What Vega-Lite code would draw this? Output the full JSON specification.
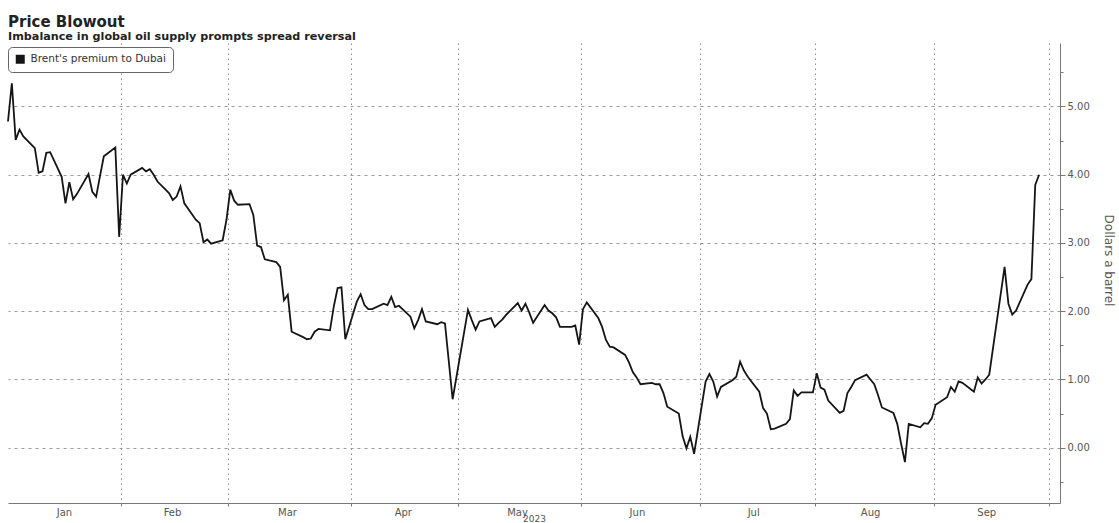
{
  "$schema": "https://vega.github.io/schema/vega-lite/v6.json",
  "width": 1052,
  "height": 460,
  "autosize": {"type": "none"},
  "padding": {"left": 8, "top": 43, "right": 59, "bottom": 20},
  "background": "#ffffff",
  "config": {"view": {"stroke": null}},
  "title": {
    "text": "Price Blowout",
    "subtitle": "Imbalance in global oil supply prompts spread reversal",
    "anchor": "start",
    "frame": "group",
    "font": "DejaVu Sans",
    "fontSize": 15,
    "fontWeight": "bold",
    "color": "#222222",
    "subtitleFont": "DejaVu Sans",
    "subtitleFontSize": 11.2,
    "subtitleFontWeight": "bold",
    "subtitleColor": "#222222",
    "subtitlePadding": 1,
    "offset": 1
  },
  "data": {
    "values": [
      {"date": "2023-01-02", "value": 4.78},
      {"date": "2023-01-03", "value": 5.34},
      {"date": "2023-01-04", "value": 4.51},
      {"date": "2023-01-05", "value": 4.66},
      {"date": "2023-01-06", "value": 4.56},
      {"date": "2023-01-09", "value": 4.39},
      {"date": "2023-01-10", "value": 4.03},
      {"date": "2023-01-11", "value": 4.05},
      {"date": "2023-01-12", "value": 4.32},
      {"date": "2023-01-13", "value": 4.33},
      {"date": "2023-01-16", "value": 3.97},
      {"date": "2023-01-17", "value": 3.58},
      {"date": "2023-01-18", "value": 3.89},
      {"date": "2023-01-19", "value": 3.64},
      {"date": "2023-01-20", "value": 3.72},
      {"date": "2023-01-23", "value": 4.01},
      {"date": "2023-01-24", "value": 3.75},
      {"date": "2023-01-25", "value": 3.68},
      {"date": "2023-01-26", "value": 3.98},
      {"date": "2023-01-27", "value": 4.27},
      {"date": "2023-01-30", "value": 4.40},
      {"date": "2023-01-31", "value": 3.09},
      {"date": "2023-02-01", "value": 4.00},
      {"date": "2023-02-02", "value": 3.87},
      {"date": "2023-02-03", "value": 4.00},
      {"date": "2023-02-06", "value": 4.10},
      {"date": "2023-02-07", "value": 4.05},
      {"date": "2023-02-08", "value": 4.08},
      {"date": "2023-02-09", "value": 4.00},
      {"date": "2023-02-10", "value": 3.90},
      {"date": "2023-02-13", "value": 3.73},
      {"date": "2023-02-14", "value": 3.63},
      {"date": "2023-02-15", "value": 3.68},
      {"date": "2023-02-16", "value": 3.83},
      {"date": "2023-02-17", "value": 3.58},
      {"date": "2023-02-20", "value": 3.34},
      {"date": "2023-02-21", "value": 3.29},
      {"date": "2023-02-22", "value": 3.01},
      {"date": "2023-02-23", "value": 3.05},
      {"date": "2023-02-24", "value": 2.99},
      {"date": "2023-02-27", "value": 3.04},
      {"date": "2023-02-28", "value": 3.34},
      {"date": "2023-03-01", "value": 3.78},
      {"date": "2023-03-02", "value": 3.62},
      {"date": "2023-03-03", "value": 3.56},
      {"date": "2023-03-06", "value": 3.57},
      {"date": "2023-03-07", "value": 3.41},
      {"date": "2023-03-08", "value": 2.96},
      {"date": "2023-03-09", "value": 2.94},
      {"date": "2023-03-10", "value": 2.76},
      {"date": "2023-03-13", "value": 2.72},
      {"date": "2023-03-14", "value": 2.65},
      {"date": "2023-03-15", "value": 2.16},
      {"date": "2023-03-16", "value": 2.24},
      {"date": "2023-03-17", "value": 1.70},
      {"date": "2023-03-20", "value": 1.62},
      {"date": "2023-03-21", "value": 1.59},
      {"date": "2023-03-22", "value": 1.60},
      {"date": "2023-03-23", "value": 1.70},
      {"date": "2023-03-24", "value": 1.74},
      {"date": "2023-03-27", "value": 1.72},
      {"date": "2023-03-28", "value": 2.07},
      {"date": "2023-03-29", "value": 2.34},
      {"date": "2023-03-30", "value": 2.35},
      {"date": "2023-03-31", "value": 1.59},
      {"date": "2023-04-03", "value": 2.14},
      {"date": "2023-04-04", "value": 2.25},
      {"date": "2023-04-05", "value": 2.09},
      {"date": "2023-04-06", "value": 2.03},
      {"date": "2023-04-07", "value": 2.03},
      {"date": "2023-04-10", "value": 2.11},
      {"date": "2023-04-11", "value": 2.09},
      {"date": "2023-04-12", "value": 2.21},
      {"date": "2023-04-13", "value": 2.06},
      {"date": "2023-04-14", "value": 2.08},
      {"date": "2023-04-17", "value": 1.92},
      {"date": "2023-04-18", "value": 1.75},
      {"date": "2023-04-19", "value": 1.87},
      {"date": "2023-04-20", "value": 2.03},
      {"date": "2023-04-21", "value": 1.85},
      {"date": "2023-04-24", "value": 1.81},
      {"date": "2023-04-25", "value": 1.84},
      {"date": "2023-04-26", "value": 1.82},
      {"date": "2023-04-28", "value": 0.71},
      {"date": "2023-05-02", "value": 2.02},
      {"date": "2023-05-03", "value": 1.87},
      {"date": "2023-05-04", "value": 1.73},
      {"date": "2023-05-05", "value": 1.85},
      {"date": "2023-05-08", "value": 1.90},
      {"date": "2023-05-09", "value": 1.77},
      {"date": "2023-05-10", "value": 1.83},
      {"date": "2023-05-11", "value": 1.88},
      {"date": "2023-05-12", "value": 1.95},
      {"date": "2023-05-15", "value": 2.12},
      {"date": "2023-05-16", "value": 2.01},
      {"date": "2023-05-17", "value": 2.11},
      {"date": "2023-05-18", "value": 1.98},
      {"date": "2023-05-19", "value": 1.83},
      {"date": "2023-05-22", "value": 2.09},
      {"date": "2023-05-23", "value": 2.01},
      {"date": "2023-05-24", "value": 1.97},
      {"date": "2023-05-25", "value": 1.91},
      {"date": "2023-05-26", "value": 1.77},
      {"date": "2023-05-29", "value": 1.77},
      {"date": "2023-05-30", "value": 1.79},
      {"date": "2023-05-31", "value": 1.51},
      {"date": "2023-06-01", "value": 2.03},
      {"date": "2023-06-02", "value": 2.13},
      {"date": "2023-06-05", "value": 1.90},
      {"date": "2023-06-06", "value": 1.77},
      {"date": "2023-06-07", "value": 1.58},
      {"date": "2023-06-08", "value": 1.48},
      {"date": "2023-06-09", "value": 1.47},
      {"date": "2023-06-12", "value": 1.36},
      {"date": "2023-06-13", "value": 1.25},
      {"date": "2023-06-14", "value": 1.11},
      {"date": "2023-06-15", "value": 1.03},
      {"date": "2023-06-16", "value": 0.93},
      {"date": "2023-06-19", "value": 0.95},
      {"date": "2023-06-20", "value": 0.93},
      {"date": "2023-06-21", "value": 0.93},
      {"date": "2023-06-22", "value": 0.80},
      {"date": "2023-06-23", "value": 0.60},
      {"date": "2023-06-26", "value": 0.50},
      {"date": "2023-06-27", "value": 0.17},
      {"date": "2023-06-28", "value": -0.01},
      {"date": "2023-06-29", "value": 0.16},
      {"date": "2023-06-30", "value": -0.09},
      {"date": "2023-07-03", "value": 0.97},
      {"date": "2023-07-04", "value": 1.08},
      {"date": "2023-07-05", "value": 0.97},
      {"date": "2023-07-06", "value": 0.75},
      {"date": "2023-07-07", "value": 0.89},
      {"date": "2023-07-10", "value": 0.99},
      {"date": "2023-07-11", "value": 1.04},
      {"date": "2023-07-12", "value": 1.26},
      {"date": "2023-07-13", "value": 1.13},
      {"date": "2023-07-14", "value": 1.04},
      {"date": "2023-07-17", "value": 0.82},
      {"date": "2023-07-18", "value": 0.58},
      {"date": "2023-07-19", "value": 0.50},
      {"date": "2023-07-20", "value": 0.27},
      {"date": "2023-07-21", "value": 0.28},
      {"date": "2023-07-24", "value": 0.35},
      {"date": "2023-07-25", "value": 0.42},
      {"date": "2023-07-26", "value": 0.84},
      {"date": "2023-07-27", "value": 0.76},
      {"date": "2023-07-28", "value": 0.81},
      {"date": "2023-07-31", "value": 0.81},
      {"date": "2023-08-01", "value": 1.09},
      {"date": "2023-08-02", "value": 0.88},
      {"date": "2023-08-03", "value": 0.85},
      {"date": "2023-08-04", "value": 0.69},
      {"date": "2023-08-07", "value": 0.51},
      {"date": "2023-08-08", "value": 0.54},
      {"date": "2023-08-09", "value": 0.80},
      {"date": "2023-08-10", "value": 0.89},
      {"date": "2023-08-11", "value": 0.99},
      {"date": "2023-08-14", "value": 1.07},
      {"date": "2023-08-15", "value": 1.00},
      {"date": "2023-08-16", "value": 0.93},
      {"date": "2023-08-17", "value": 0.77},
      {"date": "2023-08-18", "value": 0.59},
      {"date": "2023-08-21", "value": 0.51},
      {"date": "2023-08-22", "value": 0.35},
      {"date": "2023-08-23", "value": 0.06},
      {"date": "2023-08-24", "value": -0.21},
      {"date": "2023-08-25", "value": 0.35},
      {"date": "2023-08-28", "value": 0.30},
      {"date": "2023-08-29", "value": 0.36},
      {"date": "2023-08-30", "value": 0.35},
      {"date": "2023-08-31", "value": 0.43},
      {"date": "2023-09-01", "value": 0.63},
      {"date": "2023-09-04", "value": 0.74},
      {"date": "2023-09-05", "value": 0.89},
      {"date": "2023-09-06", "value": 0.82},
      {"date": "2023-09-07", "value": 0.97},
      {"date": "2023-09-08", "value": 0.95},
      {"date": "2023-09-11", "value": 0.82},
      {"date": "2023-09-12", "value": 1.03},
      {"date": "2023-09-13", "value": 0.94},
      {"date": "2023-09-14", "value": 1.00},
      {"date": "2023-09-15", "value": 1.07},
      {"date": "2023-09-19", "value": 2.65},
      {"date": "2023-09-20", "value": 2.11},
      {"date": "2023-09-21", "value": 1.95},
      {"date": "2023-09-22", "value": 2.01},
      {"date": "2023-09-25", "value": 2.39},
      {"date": "2023-09-26", "value": 2.47},
      {"date": "2023-09-27", "value": 3.85},
      {"date": "2023-09-28", "value": 4.00}
    ]
  },
  "layer": [
    {
      "mark": {"type": "line", "strokeOpacity": 0},
      "encoding": {
        "x": {
          "field": "date",
          "type": "temporal",
          "scale": {
            "type": "utc",
            "domain": [
              {"year": 2023, "month": 1, "date": 2, "utc": true},
              {"year": 2023, "month": 10, "date": 3, "hours": 11, "utc": true}
            ],
            "nice": false
          },
          "axis": {
            "orient": "bottom",
            "title": null,
            "labels": false,
            "values": [
              {"year": 2023, "month": 1, "date": 31, "hours": 12, "utc": true},
              {"year": 2023, "month": 2, "date": 28, "hours": 12, "utc": true},
              {"year": 2023, "month": 4, "date": 1, "hours": 12, "utc": true},
              {"year": 2023, "month": 4, "date": 29, "hours": 12, "utc": true},
              {"year": 2023, "month": 5, "date": 31, "hours": 12, "utc": true},
              {"year": 2023, "month": 7, "date": 1, "hours": 12, "utc": true},
              {"year": 2023, "month": 7, "date": 31, "hours": 12, "utc": true},
              {"year": 2023, "month": 8, "date": 31, "hours": 12, "utc": true},
              {"year": 2023, "month": 9, "date": 30, "hours": 12, "utc": true}
            ],
            "grid": true,
            "gridColor": "#8c8c8c",
            "gridDash": [1.5, 3.5],
            "gridWidth": 1,
            "ticks": true,
            "tickSize": 3,
            "tickColor": "#777777",
            "domain": true,
            "domainColor": "#777777",
            "domainWidth": 1
          }
        },
        "y": {
          "field": "value",
          "type": "quantitative",
          "scale": {"domain": [-0.81, 5.93], "nice": false, "zero": false},
          "axis": {
            "orient": "right",
            "title": null,
            "labels": false,
            "grid": false,
            "domain": false,
            "values": [-0.5, 0.5, 1.5, 2.5, 3.5, 4.5, 5.5],
            "ticks": true,
            "tickSize": 3,
            "tickColor": "#777777"
          }
        }
      }
    },
    {
      "mark": {"type": "line", "strokeWidth": 1.8, "interpolate": "linear"},
      "encoding": {
        "x": {
          "field": "date",
          "type": "temporal",
          "axis": {
            "orient": "bottom",
            "title": "2023",
            "titleFont": "DejaVu Sans",
            "titleFontSize": 9,
            "titleFontWeight": "normal",
            "titleColor": "#555555",
            "titlePadding": -3,
            "format": "%b",
            "values": [
              {"year": 2023, "month": 1, "date": 16, "hours": 14, "utc": true},
              {"year": 2023, "month": 2, "date": 13, "hours": 19, "utc": true},
              {"year": 2023, "month": 3, "date": 15, "hours": 19, "utc": true},
              {"year": 2023, "month": 4, "date": 15, "hours": 0, "utc": true},
              {"year": 2023, "month": 5, "date": 14, "hours": 19, "utc": true},
              {"year": 2023, "month": 6, "date": 15, "hours": 2, "utc": true},
              {"year": 2023, "month": 7, "date": 15, "hours": 10, "utc": true},
              {"year": 2023, "month": 8, "date": 14, "hours": 22, "utc": true},
              {"year": 2023, "month": 9, "date": 14, "hours": 5, "utc": true}
            ],
            "grid": false,
            "ticks": false,
            "domain": false,
            "labelFont": "DejaVu Sans",
            "labelFontSize": 10,
            "labelColor": "#555555",
            "labelPadding": 4,
            "labelFlush": false,
            "labelOverlap": false
          }
        },
        "y": {
          "field": "value",
          "type": "quantitative",
          "axis": {
            "orient": "right",
            "title": "Dollars a barrel",
            "titleFont": "DejaVu Sans",
            "titleFontSize": 12,
            "titleFontWeight": "normal",
            "titleColor": "#555555",
            "titleAngle": 90,
            "titleAlign": "center",
            "titleBaseline": "middle",
            "titleX": 48,
            "titleY": 217,
            "values": [0, 1, 2, 3, 4, 5],
            "format": ".2f",
            "grid": true,
            "gridColor": "#9a9a9a",
            "gridDash": [3, 4],
            "gridWidth": 1,
            "domain": true,
            "domainColor": "#777777",
            "domainWidth": 1,
            "ticks": true,
            "tickSize": 5,
            "tickColor": "#777777",
            "labelFont": "DejaVu Sans",
            "labelFontSize": 10,
            "labelColor": "#555555",
            "labelPadding": 2
          }
        },
        "color": {
          "datum": "Brent's premium to Dubai",
          "type": "nominal",
          "scale": {"range": ["#151515"]},
          "legend": {
            "title": null,
            "orient": "none",
            "legendX": 0,
            "legendY": 4,
            "symbolType": "square",
            "symbolSize": 81,
            "symbolFillColor": "#151515",
            "symbolStrokeWidth": 0,
            "labelFont": "DejaVu Sans",
            "labelFontSize": 10.5,
            "labelColor": "#333333",
            "labelOffset": 5,
            "padding": 7,
            "strokeColor": "#666666",
            "fillColor": "#ffffff",
            "cornerRadius": 4,
            "encode": {
              "symbols": {"update": {"fill": {"value": "#151515"}, "stroke": {"value": "#151515"}, "strokeWidth": {"value": 0}}}
            }
          }
        }
      }
    }
  ],
  "resolve": {"axis": {"x": "independent", "y": "independent"}}
}
